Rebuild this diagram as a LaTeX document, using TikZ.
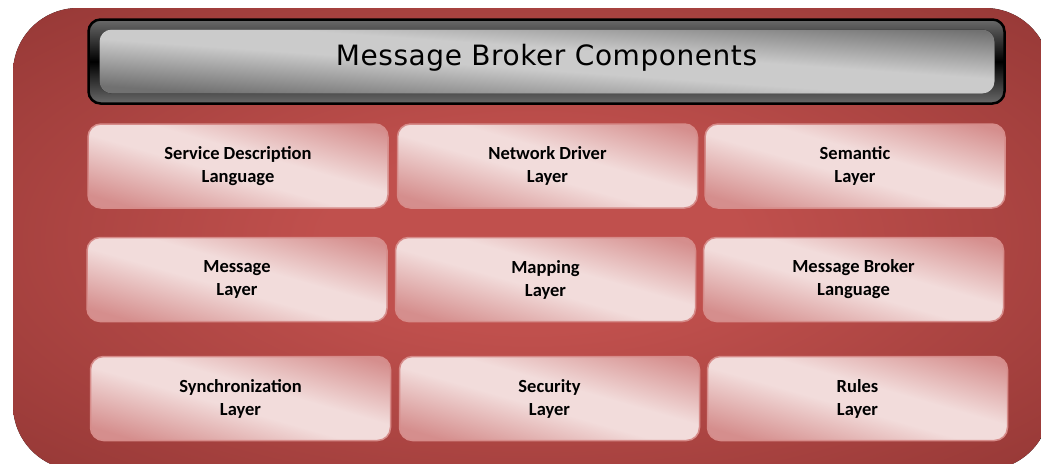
\documentclass[tikz,border=0pt]{standalone}
\usepackage{fontspec}
\usepackage{xcolor}
\usepackage{tikz}
\newfontfamily\boxfont{Carlito}
\newfontfamily\titlefont[LetterSpace=2]{DejaVu Sans}

\definecolor{bgdark}{HTML}{923634}
\definecolor{bglight}{HTML}{C0504D}
\definecolor{boxlight}{HTML}{F2DCDB}
\definecolor{boxdark}{HTML}{D58E8D}
\definecolor{boxedge}{HTML}{D68B89}
\definecolor{rimgrey}{HTML}{6A6A6A}
\definecolor{glasslight}{HTML}{CBCBCB}
\definecolor{glassdark}{HTML}{717171}

\pgfdeclareradialshading{redglow}{\pgfpoint{0bp}{0bp}}{color(0bp)=(bglight); color(10bp)=(bglight); color(38bp)=(bgdark); color(75bp)=(bgdark)}
\pgfdeclarehorizontalshading{pinkgloss}{100bp}{color(0bp)=(boxdark); color(24bp)=(boxdark); color(46bp)=(boxlight); color(56bp)=(boxlight); color(78bp)=(boxdark); color(100bp)=(boxdark)}
\pgfdeclarehorizontalshading{greygloss}{100bp}{color(0bp)=(glassdark); color(30bp)=(glassdark); color(47bp)=(glasslight); color(55bp)=(glasslight); color(72bp)=(glassdark); color(100bp)=(glassdark)}

\begin{document}
\begin{tikzpicture}[x=1pt,y=-1pt,
    layer node/.style={draw=boxedge,line width=1.5pt,rounded corners=13pt,
      shading=pinkgloss,shading angle=74,minimum width=300pt,minimum height=84pt,
      align=center,text=black,font=\boxfont\bfseries\fontsize{18.5}{23}\selectfont},
    title node/.style={draw=black,line width=2.5pt,rounded corners=12pt,
      top color=rimgrey,bottom color=rimgrey,middle color=black,
      minimum width=916pt,minimum height=84pt,
      path picture={\fill[shading=greygloss,shading angle=86]
        ([xshift=11pt,yshift=-10pt]path picture bounding box.north west) rectangle
        ([xshift=-10pt,yshift=10pt]path picture bounding box.south east);}}]

  \useasboundingbox (0,0) rectangle (1041,463);
  \clip (0,0) rectangle (1041,463);
  \fill[rounded corners=65pt,shading=redglow] (13,8) rectangle (1050,470);

  % heading
  \node[title node] (title) at (546.5,61.5) {};
  \node[font=\titlefont\fontsize{28}{30}\selectfont,text=black]
    (heading) at ([yshift=4pt]title.center) {Message Broker Components};

  % first row
  \node[layer node] (sdl) at (238,166) {Service Description\\Language};
  \node[layer node] (netdrv) at (547.5,166) {Network Driver\\Layer};
  \node[layer node] (semantic) at (855,166) {Semantic\\Layer};

  % second row
  \node[layer node] (message) at (237,279.5) {Message\\Layer};
  \node[layer node] (mapping) at (545.5,279.5) {Mapping\\Layer};
  \node[layer node] (mbl) at (853.5,279.5) {Message Broker\\Language};

  % third row
  \node[layer node] (sync) at (240.5,398.5) {Synchronization\\Layer};
  \node[layer node] (security) at (549.5,398.5) {Security\\Layer};
  \node[layer node] (rules) at (857.5,398.5) {Rules\\Layer};
\end{tikzpicture}
\end{document}
